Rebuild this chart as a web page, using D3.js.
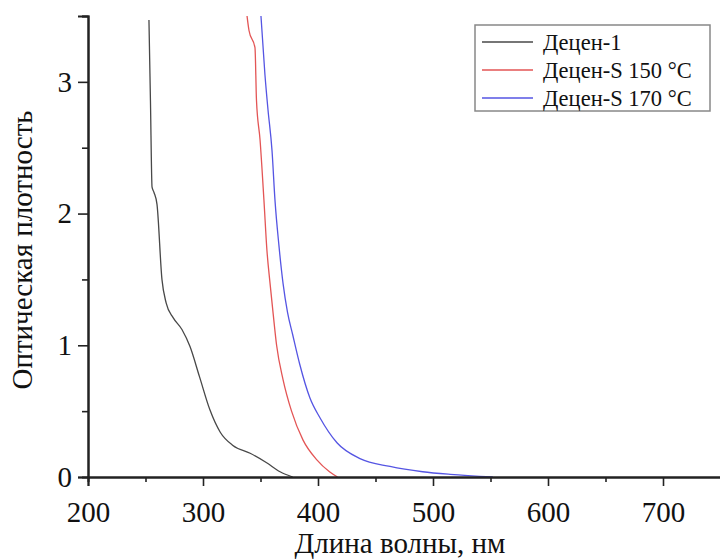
<!DOCTYPE html>
<html>
<head>
<meta charset="utf-8">
<script src="https://cdn.jsdelivr.net/npm/d3@7"></script>
<style>
  body { margin: 0; background: #fff; }
  svg, svg text { font-family: "Liberation Serif", "Times New Roman", serif; }
</style>
</head>
<body>
<div class="canvas"></div>
<script>
// data
const seriesNames = ['Децен-1', 'Децен-S 150 °C', 'Децен-S 170 °C'];

const wlDecene = [253, 254.3, 255.7, 257.4, 260, 264.3, 268, 274, 281.7, 288.7, 297, 306, 315, 326, 341, 355, 367, 378];
const odDecene = [3.47, 2.86, 2.2, 2.16, 2.07, 1.5, 1.32, 1.21, 1.12, 0.99, 0.76, 0.51, 0.34, 0.24, 0.18, 0.11, 0.04, 0];

const wlS150 = [338.3, 340, 345.2, 346.5, 349.6, 353, 355.6, 358.3, 361, 364, 369.6, 377, 387, 399, 410, 417];
const odS150 = [3.5, 3.39, 3.26, 2.86, 2.56, 2.10, 1.72, 1.47, 1.24, 1.0, 0.74, 0.5, 0.28, 0.13, 0.04, 0];

const wlS170 = [350.4, 353.9, 356.5, 360, 362.6, 366, 369.6, 373.5, 378, 384, 393, 401.7, 416.5, 436.5, 462.6, 491, 515, 552];
const odS170 = [3.5, 3.05, 2.79, 2.48, 2.1, 1.76, 1.47, 1.25, 1.08, 0.86, 0.6, 0.45, 0.26, 0.14, 0.08, 0.04, 0.02, 0];

const xTicks = [200, 300, 400, 500, 600, 700];
const yTicks = [0, 1, 2, 3];
const colors = ['#484848', '#e35555', '#5555e3'];
const serif = '"Liberation Serif", "Times New Roman", serif';

const series = [
    {name: seriesNames[0], wl: wlDecene, od: odDecene},
    {name: seriesNames[1], wl: wlS150, od: odS150},
    {name: seriesNames[2], wl: wlS170, od: odS170}
];

const svg = d3.select('.canvas')
    .append('svg')
    .attr('width', 720)
    .attr('height', 559);

// plot area
const margin = {top: 16, left: 88, bottom: 82};
const x = d3.scaleLinear().domain([200, 750]).range([margin.left, 720.5]);
const y = d3.scaleLinear().domain([0, 3.5]).range([559 - margin.bottom, margin.top]);

// curves
const line = d3.line()
    .x(d => x(d[0]))
    .y(d => y(d[1]))
    .curve(d3.curveMonotoneX);

series.forEach((s, i) => {
    svg.append('path')
        .datum(s.wl.map((w, j) => [w, s.od[j]]))
        .attr('fill', 'none')
        .attr('stroke', colors[i])
        .attr('stroke-width', 1.3)
        .attr('d', line);
});

// axes
const xAxisGroup = svg.append('g').attr('transform', `translate(0, ${y(0)})`);
const yAxisGroup = svg.append('g').attr('transform', `translate(${x(200)}, 0)`);

// minor ticks first
xAxisGroup.call(d3.axisBottom(x).tickValues(d3.range(250, 751, 100)).tickSize(5).tickFormat(''));
yAxisGroup.call(d3.axisLeft(y).tickValues([0.5, 1.5, 2.5, 3.5]).tickSize(6).tickFormat(''));

const xMajor = svg.append('g').attr('transform', `translate(0, ${y(0)})`)
    .call(d3.axisBottom(x).tickValues(xTicks).tickSize(9).tickPadding(15).tickFormat(d3.format('d')));
const yMajor = svg.append('g').attr('transform', `translate(${x(200)}, 0)`)
    .call(d3.axisLeft(y).tickValues(yTicks).tickSize(10).tickPadding(6).tickFormat(d3.format('d')));

svg.selectAll('g').attr('font-family', serif);
svg.selectAll('.domain').attr('stroke', '#222').attr('stroke-width', 2);
svg.selectAll('.tick line').attr('stroke', '#222').attr('stroke-width', 1.6);
svg.selectAll('.tick text').attr('font-size', 29).attr('fill', '#111');

// axis titles
svg.append('text')
    .attr('x', 400)
    .attr('y', 553)
    .attr('text-anchor', 'middle')
    .attr('font-size', 29)
    .attr('fill', '#111')
    .text('Длина волны, нм');

svg.append('text')
    .attr('transform', 'translate(32, 250) rotate(-90)')
    .attr('text-anchor', 'middle')
    .attr('font-size', 29)
    .attr('fill', '#111')
    .text('Оптическая плотность');

// legend
const legend = svg.append('g').attr('transform', 'translate(475, 25)');
legend.append('rect')
    .attr('width', 235)
    .attr('height', 86)
    .attr('fill', '#fff')
    .attr('stroke', '#888')
    .attr('stroke-width', 1.5);

series.forEach((s, i) => {
    const row = legend.append('g').attr('transform', `translate(0, ${17 + i * 28})`);
    row.append('line')
        .attr('x1', 7).attr('x2', 58)
        .attr('stroke', colors[i])
        .attr('stroke-width', 1.3);
    row.append('text')
        .attr('x', 68)
        .attr('dy', '0.35em')
        .attr('font-size', 22.5)
        .attr('fill', '#111')
        .text(s.name);
});
</script>
</body>
</html>
